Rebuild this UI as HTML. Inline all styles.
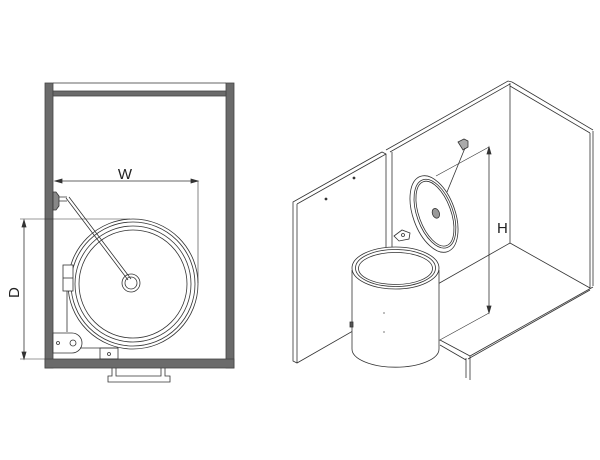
<!DOCTYPE html>
<html><head><style>html,body{margin:0;padding:0;background:#fff}svg{display:block}</style></head>
<body>
<svg width="600" height="460" viewBox="0 0 600 460" xmlns="http://www.w3.org/2000/svg" font-family="Liberation Sans, sans-serif">
<g stroke="#333" fill="none" stroke-width="0.8">
<rect x="45" y="83" width="8" height="285" fill="#6b6b6b" stroke="#444"/>
<rect x="226" y="83" width="8" height="285" fill="#6b6b6b" stroke="#444"/>
<rect x="53" y="91" width="173" height="5" fill="#6b6b6b" stroke="#444"/>
<rect x="45" y="359" width="189" height="9" fill="#6b6b6b" stroke="#444"/>
<line x1="53" y1="83" x2="226" y2="83"/>
<path d="M112 368 V376 H108 V382 H170 V376 H165 V368 M116 368 V376 H161 V368"/>
<line x1="55" y1="181" x2="198" y2="181"/>
<path d="M55 181 l7 -2 v4z M198 181 l-7 -2 v4z" fill="#333"/>
<line x1="198" y1="181" x2="198" y2="283" stroke-width="0.6"/>
<line x1="24" y1="220" x2="24" y2="359"/>
<path d="M24 220 l-2 7 h4z M24 359 l-2 -7 h4z" fill="#333"/>
<line x1="20" y1="219" x2="130" y2="219" stroke-width="0.6"/>
<line x1="20" y1="359" x2="45" y2="359" stroke-width="0.6"/>
<circle cx="133" cy="284" r="65"/>
<circle cx="133" cy="284" r="62"/>
<circle cx="133" cy="284" r="58"/>
<circle cx="133" cy="284" r="54"/>
<circle cx="131" cy="283" r="9"/>
<circle cx="131" cy="283" r="6"/>
<path d="M53 192 h3 l3 4 v10 l-3 4 h-3z" fill="#888"/>
<path d="M59 197 h8 M59 201 h8"/>
<path d="M66 198 L128 280 M69 197 L131 279"/>
<rect x="63" y="265" width="10" height="26" fill="#fff"/>
<line x1="63" y1="278" x2="73" y2="278"/>
<line x1="67" y1="291" x2="67" y2="332"/>
<path d="M53 333 H72 A10 10 0 0 1 72 353 H53z" fill="#fff"/>
<circle cx="73" cy="343" r="3"/>
<circle cx="58" cy="343" r="1.5"/>
<line x1="80" y1="348" x2="118" y2="348"/>
<rect x="100" y="348" width="18" height="11"/>
<circle cx="109" cy="354" r="1.5"/>
<path d="M293 202 L382 152 L386 154 L386 312 L297 363 L293 361 Z" fill="#fff"/>
<path d="M297 204 L386 154 M297 204 V363"/>
<circle cx="326" cy="199" r="1" fill="#333"/>
<circle cx="354" cy="178" r="1" fill="#333"/>
<path d="M386 150 L508 81 L512 82 M390 152 L510 84"/>
<line x1="510" y1="83" x2="510" y2="243"/>
<line x1="392" y1="152" x2="392" y2="310"/>
<path d="M512 82 L593 130 M510 86 L590 133"/>
<path d="M590 133 V288 M593 131 V286"/>
<path d="M510 243 L590 288 M510 243 L392 310"/>
<path d="M593 287 L470 356 L440 340 M590 290 L468 359"/>
<path d="M470 356 V380 M466 358 V378 M440 345 L466 360"/>
<line x1="489" y1="147" x2="489" y2="313"/>
<path d="M489 147 l-2 7 h4z M489 313 l-2 -7 h4z" fill="#333"/>
<line x1="489" y1="147" x2="436" y2="176" stroke-width="0.6"/>
<line x1="489" y1="313" x2="438" y2="341" stroke-width="0.6"/>
<path d="M458 142 l6 -3 l4 2 v6 l-5 3z" fill="#aaa"/>
<path d="M465 148 L447 192"/>
<path d="M394 236 l8 -6 l8 3 l-1 6 l-10 2z" fill="#fff"/>
<circle cx="403" cy="235" r="1.5"/>
<path d="M352 270 V349 A43 18 0 0 0 439 349 V270" fill="#fff"/>
<ellipse cx="395.5" cy="268" rx="43.5" ry="21" fill="#fff"/>
<ellipse cx="395.5" cy="268" rx="40" ry="18.5"/>
<ellipse cx="395.5" cy="268.5" rx="37" ry="16"/>
<circle cx="384" cy="313" r="1" fill="#aaa" stroke="none"/>
<circle cx="384" cy="332" r="1" fill="#aaa" stroke="none"/>
<rect x="350" y="322" width="3" height="5" fill="#555"/>
<g transform="rotate(-20 434 214)">
<ellipse cx="434" cy="214" rx="21" ry="40" fill="#fff"/>
<ellipse cx="435" cy="214" rx="18" ry="36"/>
<ellipse cx="435" cy="214" rx="16" ry="34"/>
<ellipse cx="436" cy="214" rx="3.5" ry="5" fill="#999"/>
</g>
</g>
<text x="125" y="179" font-size="15" text-anchor="middle" fill="#222">W</text>
<text x="497" y="233" font-size="15" fill="#222">H</text>
<text x="0" y="0" font-size="15" fill="#222" transform="translate(19 298) rotate(-90)">D</text>
</svg>
</body></html>
